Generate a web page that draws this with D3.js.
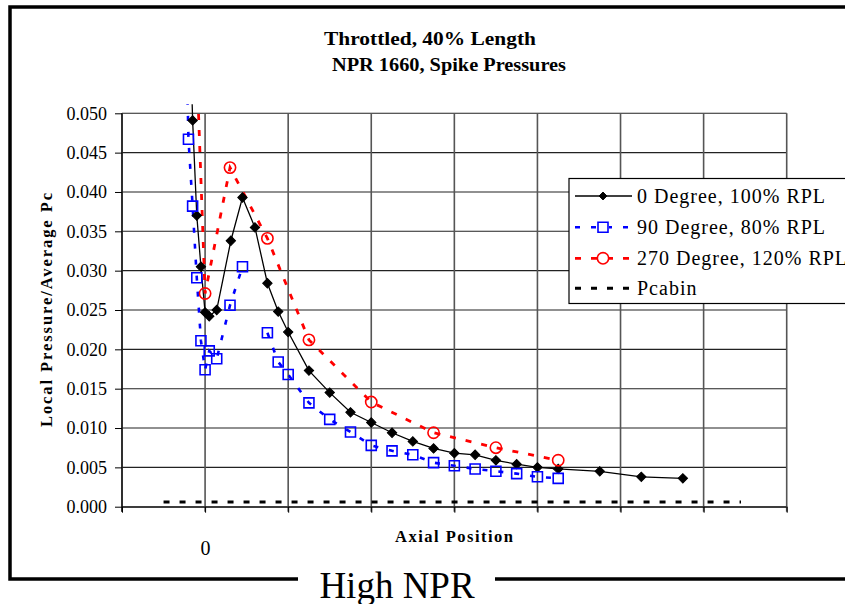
<!DOCTYPE html>
<html>
<head>
<meta charset="utf-8">
<script src="https://cdn.jsdelivr.net/npm/d3@7"></script>
<style>
  body { margin: 0; background: #fff; }
  text { font-family: "Liberation Serif", "Times New Roman", serif; }
</style>
</head>
<body>
<div id="chart"></div>
<script>
// values
const degree0X = [-0.2, -0.15, -0.1, -0.05, 0, 0.05, 0.14, 0.31, 0.45, 0.6, 0.75, 0.88, 1.0, 1.25, 1.5, 1.75, 2.0, 2.25, 2.5, 2.75, 3.0, 3.25, 3.5, 3.75, 4.0, 4.25, 4.75, 5.25, 5.75];
const degree0Y = [0.068, 0.0491, 0.0370, 0.0305, 0.0247, 0.0242, 0.0250, 0.0338, 0.0393, 0.0355, 0.0284, 0.0248, 0.0222, 0.0173, 0.0145, 0.0120, 0.0107, 0.0094, 0.0083, 0.0074, 0.0068, 0.0066, 0.0059, 0.0054, 0.0050, 0.0048, 0.0045, 0.0038, 0.0036];

const degree90X = [-0.25, -0.2, -0.15, -0.1, -0.05, 0, 0.05, 0.14, 0.3, 0.45, 0.6, 0.75, 0.88, 1.0, 1.25, 1.5, 1.75, 2.0, 2.25, 2.5, 2.75, 3.0, 3.25, 3.5, 3.75, 4.0, 4.25];
const degree90Y = [0.07, 0.0467, 0.0382, 0.0291, 0.0211, 0.0174, 0.0198, 0.0188, 0.0256, 0.0305, null, 0.0221, 0.0184, 0.0168, 0.0132, 0.0111, 0.0095, 0.0078, 0.0071, 0.0066, 0.0056, 0.0052, 0.0048, 0.0045, 0.0042, 0.0038, 0.0036];

const degree270X = [-0.1, 0, 0.3, 0.75, 1.25, 2.0, 2.75, 3.5, 4.25];
const degree270Y = [0.056, 0.0271, 0.0431, 0.0341, 0.0212, 0.0133, 0.0094, 0.0075, 0.0059];

const pcabinX = [-0.5, 6.45];
const pcabinY = [0.0006, 0.0006];

const yTicks = [0, 0.005, 0.01, 0.015, 0.02, 0.025, 0.03, 0.035, 0.04, 0.045, 0.05];
const xTicks = [-1, 0, 1, 2, 3, 4, 5, 6, 7];
const legendLabels = ["0 Degree, 100% RPL", "90 Degree, 80% RPL", "270 Degree, 120% RPL", "Pcabin"];

const W = 845, H = 604;
const plot = { left: 122, right: 786.7, top: 113.3, bottom: 506.7 };

const svg = d3.select("#chart")
    .append("svg")
    .attr("width", W)
    .attr("height", H);

const x = d3.scaleLinear().domain([-1, 7]).range([plot.left, plot.right]);
const y = d3.scaleLinear().domain([0, 0.05]).range([plot.bottom, plot.top]);

// outer frame with the gap for the caption
svg.append("path")
    .attr("d", `M298,579 H10 V7 H900 M495,579 H900`)
    .attr("fill", "none")
    .attr("stroke", "#000")
    .attr("stroke-width", 3.5);

svg.append("text")
    .attr("x", 397).attr("y", 598)
    .attr("text-anchor", "middle")
    .attr("font-size", 37)
    .text("High NPR");

// titles
svg.append("text")
    .attr("x", 430).attr("y", 45)
    .attr("text-anchor", "middle")
    .attr("font-size", 19).attr("font-weight", "bold")
    .attr("textLength", 212).attr("lengthAdjust", "spacingAndGlyphs")
    .text("Throttled, 40% Length");
svg.append("text")
    .attr("x", 449).attr("y", 71)
    .attr("text-anchor", "middle")
    .attr("font-size", 19).attr("font-weight", "bold")
    .attr("textLength", 234).attr("lengthAdjust", "spacingAndGlyphs")
    .text("NPR 1660, Spike Pressures");

// gridlines
svg.append("g")
    .selectAll("line")
    .data(yTicks)
    .join("line")
    .attr("x1", plot.left).attr("x2", plot.right)
    .attr("y1", d => y(d)).attr("y2", d => y(d))
    .attr("stroke", "#222").attr("stroke-width", 1.1);

svg.append("g")
    .selectAll("line")
    .data(xTicks)
    .join("line")
    .attr("x1", d => x(d)).attr("x2", d => x(d))
    .attr("y1", plot.top).attr("y2", plot.bottom + 5)
    .attr("stroke", "#555").attr("stroke-width", 1.6);

// axes
const yAxis = svg.append("g")
    .attr("transform", `translate(${plot.left},0)`)
    .call(d3.axisLeft(y).tickValues(yTicks).tickFormat(d3.format(".3f")).tickSize(7).tickPadding(8));
yAxis.select(".domain").remove();
yAxis.selectAll("text").attr("font-size", 18).attr("font-family", "Liberation Serif").attr("fill", "#000");

const xAxis = svg.append("g")
    .attr("transform", `translate(0,${plot.bottom})`)
    .call(d3.axisBottom(x).tickValues(xTicks).tickFormat(d => d === 0 ? "0" : "").tickSize(6).tickPadding(28));
xAxis.select(".domain").attr("d", `M${plot.left},0.5H${plot.right}`);
xAxis.selectAll("text").attr("font-size", 20).attr("font-family", "Liberation Serif").attr("fill", "#000");

svg.append("line")
    .attr("x1", plot.left).attr("x2", plot.left)
    .attr("y1", plot.top).attr("y2", plot.bottom + 5)
    .attr("stroke", "#000").attr("stroke-width", 1.2);

// axis titles
svg.append("text")
    .attr("x", 454).attr("y", 542)
    .attr("text-anchor", "middle")
    .attr("font-size", 16.5).attr("font-weight", "bold")
    .attr("textLength", 118).attr("lengthAdjust", "spacing")
    .text("Axial Position");

svg.append("text")
    .attr("transform", "translate(52,310) rotate(-90)")
    .attr("text-anchor", "middle")
    .attr("font-size", 16.5).attr("font-weight", "bold")
    .attr("textLength", 234).attr("lengthAdjust", "spacing")
    .text("Local Pressure/Average Pc");

// series
svg.append("clipPath").attr("id", "clip")
    .append("rect")
    .attr("x", plot.left).attr("y", plot.top - 9)
    .attr("width", plot.right - plot.left).attr("height", plot.bottom - plot.top + 12);

const area = svg.append("g").attr("clip-path", "url(#clip)");

function toPoints(xs, ys) {
    return xs.map((v, i) => ({ x: v, y: ys[i] }));
}

const line = d3.line()
    .defined(d => d.y !== null)
    .x(d => x(d.x))
    .y(d => y(d.y));

const series = [
    { data: toPoints(degree0X, degree0Y), color: "#000", width: 1.3, dash: null, marker: "diamond" },
    { data: toPoints(degree90X, degree90Y), color: "#0000ff", width: 2.6, dash: "5,11", marker: "square" },
    { data: toPoints(degree270X, degree270Y), color: "#ff0000", width: 2.8, dash: "6,10", marker: "circle" },
    { data: toPoints(pcabinX, pcabinY), color: "#000", width: 3, dash: "6,10", marker: null }
];

const markerPath = {
    diamond: d3.symbol(d3.symbolSquare, 44)(),
    square: d3.symbol(d3.symbolSquare, 100)(),
    circle: d3.symbol(d3.symbolCircle, 100)()
};

function drawMarker(g, kind, color, cx, cy, scale) {
    const p = g.append("path")
        .attr("d", markerPath[kind])
        .attr("stroke", color);
    if (kind === "diamond") {
        p.attr("transform", `translate(${cx},${cy}) rotate(45) scale(${scale})`)
            .attr("fill", color).attr("stroke-width", 1);
    } else {
        p.attr("transform", `translate(${cx},${cy}) scale(${scale})`)
            .attr("fill", "none").attr("stroke-width", 1.6);
    }
}

series.forEach(s => {
    area.append("path")
        .datum(s.data)
        .attr("fill", "none")
        .attr("stroke", s.color)
        .attr("stroke-width", s.width)
        .attr("stroke-dasharray", s.dash)
        .attr("d", line);
});

series.forEach(s => {
    if (!s.marker) return;
    s.data.filter(d => d.y !== null && d.y <= 0.05).forEach(d => {
        drawMarker(area, s.marker, s.color, x(d.x), y(d.y), 1);
    });
});

// legend
const legend = svg.append("g");
legend.append("rect")
    .attr("x", 569).attr("y", 178.5)
    .attr("width", 320).attr("height", 125)
    .attr("fill", "#fff").attr("stroke", "#000").attr("stroke-width", 1.2);

const rowY = [196, 227.3, 258.3, 288.3];
series.forEach((s, i) => {
    legend.append("line")
        .attr("x1", 575).attr("x2", 632)
        .attr("y1", rowY[i]).attr("y2", rowY[i])
        .attr("stroke", s.color)
        .attr("stroke-width", s.width)
        .attr("stroke-dasharray", s.dash);
    if (s.marker) {
        if (s.marker !== "diamond") {
            legend.append("rect")
                .attr("x", 597).attr("y", rowY[i] - 6)
                .attr("width", 12).attr("height", 12)
                .attr("fill", "#fff");
        }
        drawMarker(legend, s.marker, s.color, 603, rowY[i], s.marker === "diamond" ? 0.85 : 1);
    }
    legend.append("text")
        .attr("x", 637).attr("y", rowY[i] + 7)
        .attr("font-size", 20)
        .attr("letter-spacing", 1)
        .text(legendLabels[i]);
});
</script>
</body>
</html>
